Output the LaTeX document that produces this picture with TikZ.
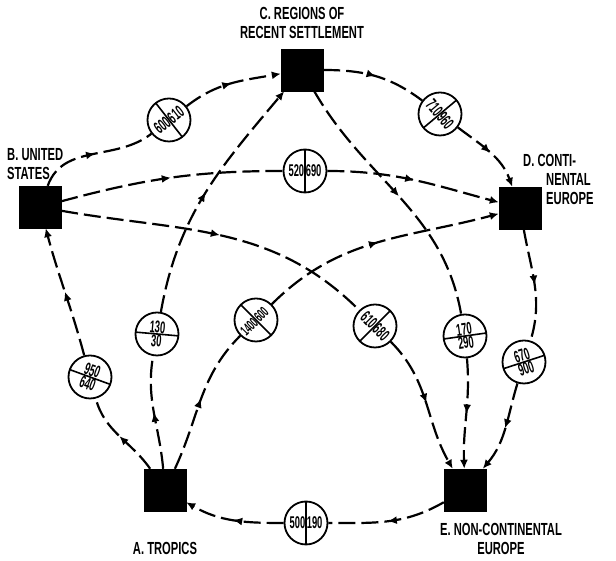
\documentclass[tikz,border=0pt]{standalone}
\usepackage{fontspec}
\setmainfont{Liberation Sans}
\newfontfamily\labfont[FakeStretch=0.64]{Liberation Sans}
\newfontfamily\numfont[FakeStretch=0.55]{Liberation Sans}
\usetikzlibrary{arrows.meta,decorations.markings}
\tikzset{
  sq/.style={fill=black, draw=black, minimum size=42pt, inner sep=0pt},
  ring/.style={circle, draw, line width=1.8pt, fill=white, minimum size=43pt, inner sep=0pt},
  flow/.style={line width=2.2pt, dash pattern=on 17pt off 6pt},
  tip/.style={-{Latex[length=9pt,width=8pt]}},
  mid/.style={postaction={decorate}, decoration={markings, mark=at position #1 with {\arrow{Latex[length=9pt,width=8pt]}}}},
  lbl/.style={font=\labfont\bfseries\fontsize{17.5}{19}\selectfont, inner sep=1pt},
  num/.style={font=\numfont\bfseries\fontsize{17}{17}\selectfont, inner sep=0.6pt},
  smallnum/.style={num, font=\numfont\bfseries\fontsize{14.5}{14.5}\selectfont},
  divider/.style={line width=1.6pt},
}
\newcommand\ringsplit[5][num]{%
  \draw[divider] (#2) ++(#3+90:22) -- ++(#3-90:44);
  \node[#1, rotate=#3, anchor=east] at (#2) {#4};
  \node[#1, rotate=#3, anchor=west] at (#2) {#5};
}
\newcommand\ringstack[4]{%
  \draw[divider] (#1) ++(#2:22) -- ++(#2+180:44);
  \node[num, rotate=#2, anchor=south] at (#1) {#3};
  \node[num, rotate=#2, anchor=north] at (#1) {#4};
}
\begin{document}
\begin{tikzpicture}[x=1pt,y=1pt]
\useasboundingbox (0,0) rectangle (616,561);
% countries
\node[sq] (C) at (302,491) {};
\node[sq] (B) at (40,354) {};
\node[sq] (D) at (520,353) {};
\node[sq] (A) at (165,71) {};
\node[sq] (E) at (465,71) {};
% value rings
\node[ring] (cBC) at (169,441) {};
\node[ring] (cCD) at (440,447) {};
\node[ring] (cBD) at (305,390) {};
\node[ring] (cAB) at (90,184) {};
\node[ring] (cAC) at (157,227) {};
\node[ring] (cAD) at (256,241) {};
\node[ring] (cBE) at (375,235) {};
\node[ring] (cCE) at (465,225) {};
\node[ring] (cDE) at (524,199) {};
\node[ring] (cAE) at (306,38) {};
% outer ring
\draw[flow, mid=0.5] (A) to[out=125,in=-75] (cAB);
\draw[flow, mid=0.5, tip] (cAB) to[out=105,in=-75] (B);
\draw[flow, mid=0.5] (B) to[out=70,in=218] (cBC);
\draw[flow, mid=0.5, tip] (cBC) to[out=38,in=190] (C);
\draw[flow, mid=0.5] (C) to[out=0,in=143] (cCD);
\draw[flow, mid=0.5, tip] (cCD) to[out=-37,in=110] (D);
\draw[flow, mid=0.5] (D) to[out=-80,in=73] (cDE);
\draw[flow, mid=0.5, tip] (cDE) to[out=-107,in=50] (E);
\draw[flow, mid=0.5] (E) to[out=-150,in=0] (cAE);
\draw[flow, mid=0.5, tip] (cAE) to[out=180,in=-30] (A);
% inner links
\draw[flow, mid=0.5] (B) to[out=15,in=180] (cBD);
\draw[flow, mid=0.5, tip] (cBD) to[out=0,in=165] (D);
\draw[flow, mid=0.5] (B) to[out=-10,in=135] (cBE);
\draw[flow, mid=0.5, tip] (cBE) to[out=-45,in=120] (E);
\draw[flow, mid=0.5] (A) to[out=95,in=-100] (cAC);
\draw[flow, mid=0.5, tip] (cAC) to[out=80,in=-130] (C);
\draw[flow, mid=0.5] (A) to[out=65,in=225] (cAD);
\draw[flow, mid=0.5, tip] (cAD) to[out=45,in=195] (D);
\draw[flow, mid=0.5] (C) to[out=-60,in=100] (cCE);
\draw[flow, mid=0.5, tip] (cCE) to[out=-85,in=92] (E);
% ring contents
\ringsplit{cBC}{38}{600}{610}
\ringsplit{cCD}{-50}{710}{960}
\ringsplit{cBD}{0}{520}{690}
\ringsplit{cAE}{0}{500}{190}
\ringsplit[smallnum]{cAD}{45}{1400}{600}
\ringsplit{cBE}{-45}{610}{680}
\ringstack{cAB}{-20}{950}{640}
\ringstack{cAC}{-5}{130}{30}
\ringstack{cCE}{8}{170}{290}
\ringstack{cDE}{18}{670}{900}
% labels
\node[lbl, align=center] (labC) at (302,538) {C. REGIONS OF\\RECENT SETTLEMENT};
\node[lbl, align=left, anchor=north west] (labB) at (6,414) {B. UNITED\\STATES};
\node[lbl, anchor=west] (labD1) at (522,401) {D. CONTI-};
\node[lbl, anchor=west] (labD2) at (545,382) {NENTAL};
\node[lbl, anchor=west] (labD3) at (545,363) {EUROPE};
\node[lbl] (labA) at (165,13) {A. TROPICS};
\node[lbl, align=center] (labE) at (501,22) {E. NON-CONTINENTAL\\EUROPE};
\end{tikzpicture}
\end{document}
